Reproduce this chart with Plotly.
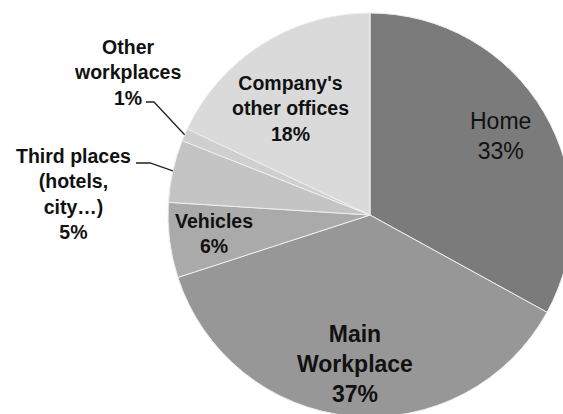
import math
import plotly.graph_objects as go

# Share of working time by location (%)
categories = ["Home", "Main Workplace", "Vehicles", "Third places (hotels, city…)",
              "Other workplaces", "Company's other offices"]
shares = [33, 37, 6, 5, 1, 18]
label_lines = [["Home"], ["Main", "Workplace"], ["Vehicles"],
               ["Third places", "(hotels,", "city…)"], ["Other", "workplaces"],
               ["Company's", "other offices"]]
colors = ["#7b7b7b", "#979797", "#aaaaaa", "#c4c4c4", "#cfcfcf", "#dadada"]

# Canvas and pie geometry (pixels)
W, H = 575, 430
CX, CY, R = 370, 215, 202

FONT = "Liberation Sans, Arial, sans-serif"

# Label placement: centre x, first and last baseline y, font size, bold
label_style = [
    dict(x=500, y0=131, y1=157, size=23, bold=False),
    dict(x=355, y0=343, y1=401, size=23, bold=True),
    dict(x=214, y0=229, y1=253, size=19.5, bold=True),
    dict(x=73, y0=165, y1=237, size=19.5, bold=True),
    dict(x=127, y0=55, y1=104, size=19.5, bold=True),
    dict(x=290, y0=92, y1=140, size=19.5, bold=True),
]
# Leader lines for the labels that sit outside the pie: text-side start and elbow
leaders = {4: [(146, 102), (154, 102)], 3: [(136, 163), (150, 163)]}


def px(x):
    return x / W


def py(y):
    return 1 - y / H


fig = go.Figure(go.Pie(
    labels=categories,
    values=shares,
    sort=False,
    direction="clockwise",
    rotation=0,
    textinfo="none",
    hoverinfo="label+percent",
    marker=dict(colors=colors, line=dict(color="#eeeeee", width=1)),
    domain=dict(x=[px(CX - R), px(CX + R)], y=[py(CY + R), py(CY - R)]),
    showlegend=False,
))

annotations = []
for lines, value, st in zip(label_lines, shares, label_style):
    texts = lines + [f"{value}%"]
    if st["bold"]:
        texts = [f"<b>{t}</b>" for t in texts]
    cy = (st["y0"] + st["y1"]) / 2 - 0.36 * st["size"]
    annotations.append(dict(
        x=px(st["x"]), y=py(cy), xref="paper", yref="paper",
        text="<br>".join(texts),
        showarrow=False, xanchor="center", yanchor="middle", align="center",
        font=dict(family=FONT, size=st["size"], color="#111111"),
    ))

# Leader lines end on the outer edge of their slice, at its middle angle
shapes = []
total = sum(shares)
cum = 0
for idx, v in enumerate(shares):
    mid = (cum + v / 2) / total * 2 * math.pi
    cum += v
    if idx in leaders:
        ex = CX + R * math.sin(mid)
        ey = CY - R * math.cos(mid)
        pts = leaders[idx] + [(ex, ey)]
        path = "M " + " L ".join(f"{px(a):.5f},{py(b):.5f}" for a, b in pts)
        shapes.append(dict(type="path", path=path, xref="paper", yref="paper",
                           line=dict(color="#222222", width=1.3)))

fig.update_layout(
    width=W, height=H,
    margin=dict(l=0, r=0, t=0, b=0),
    paper_bgcolor="white",
    plot_bgcolor="white",
    annotations=annotations,
    shapes=shapes,
)

fig.write_html(
    "out.html",
    post_script="document.documentElement.style.overflow='hidden';"
                "document.body.style.overflow='hidden';",
)
